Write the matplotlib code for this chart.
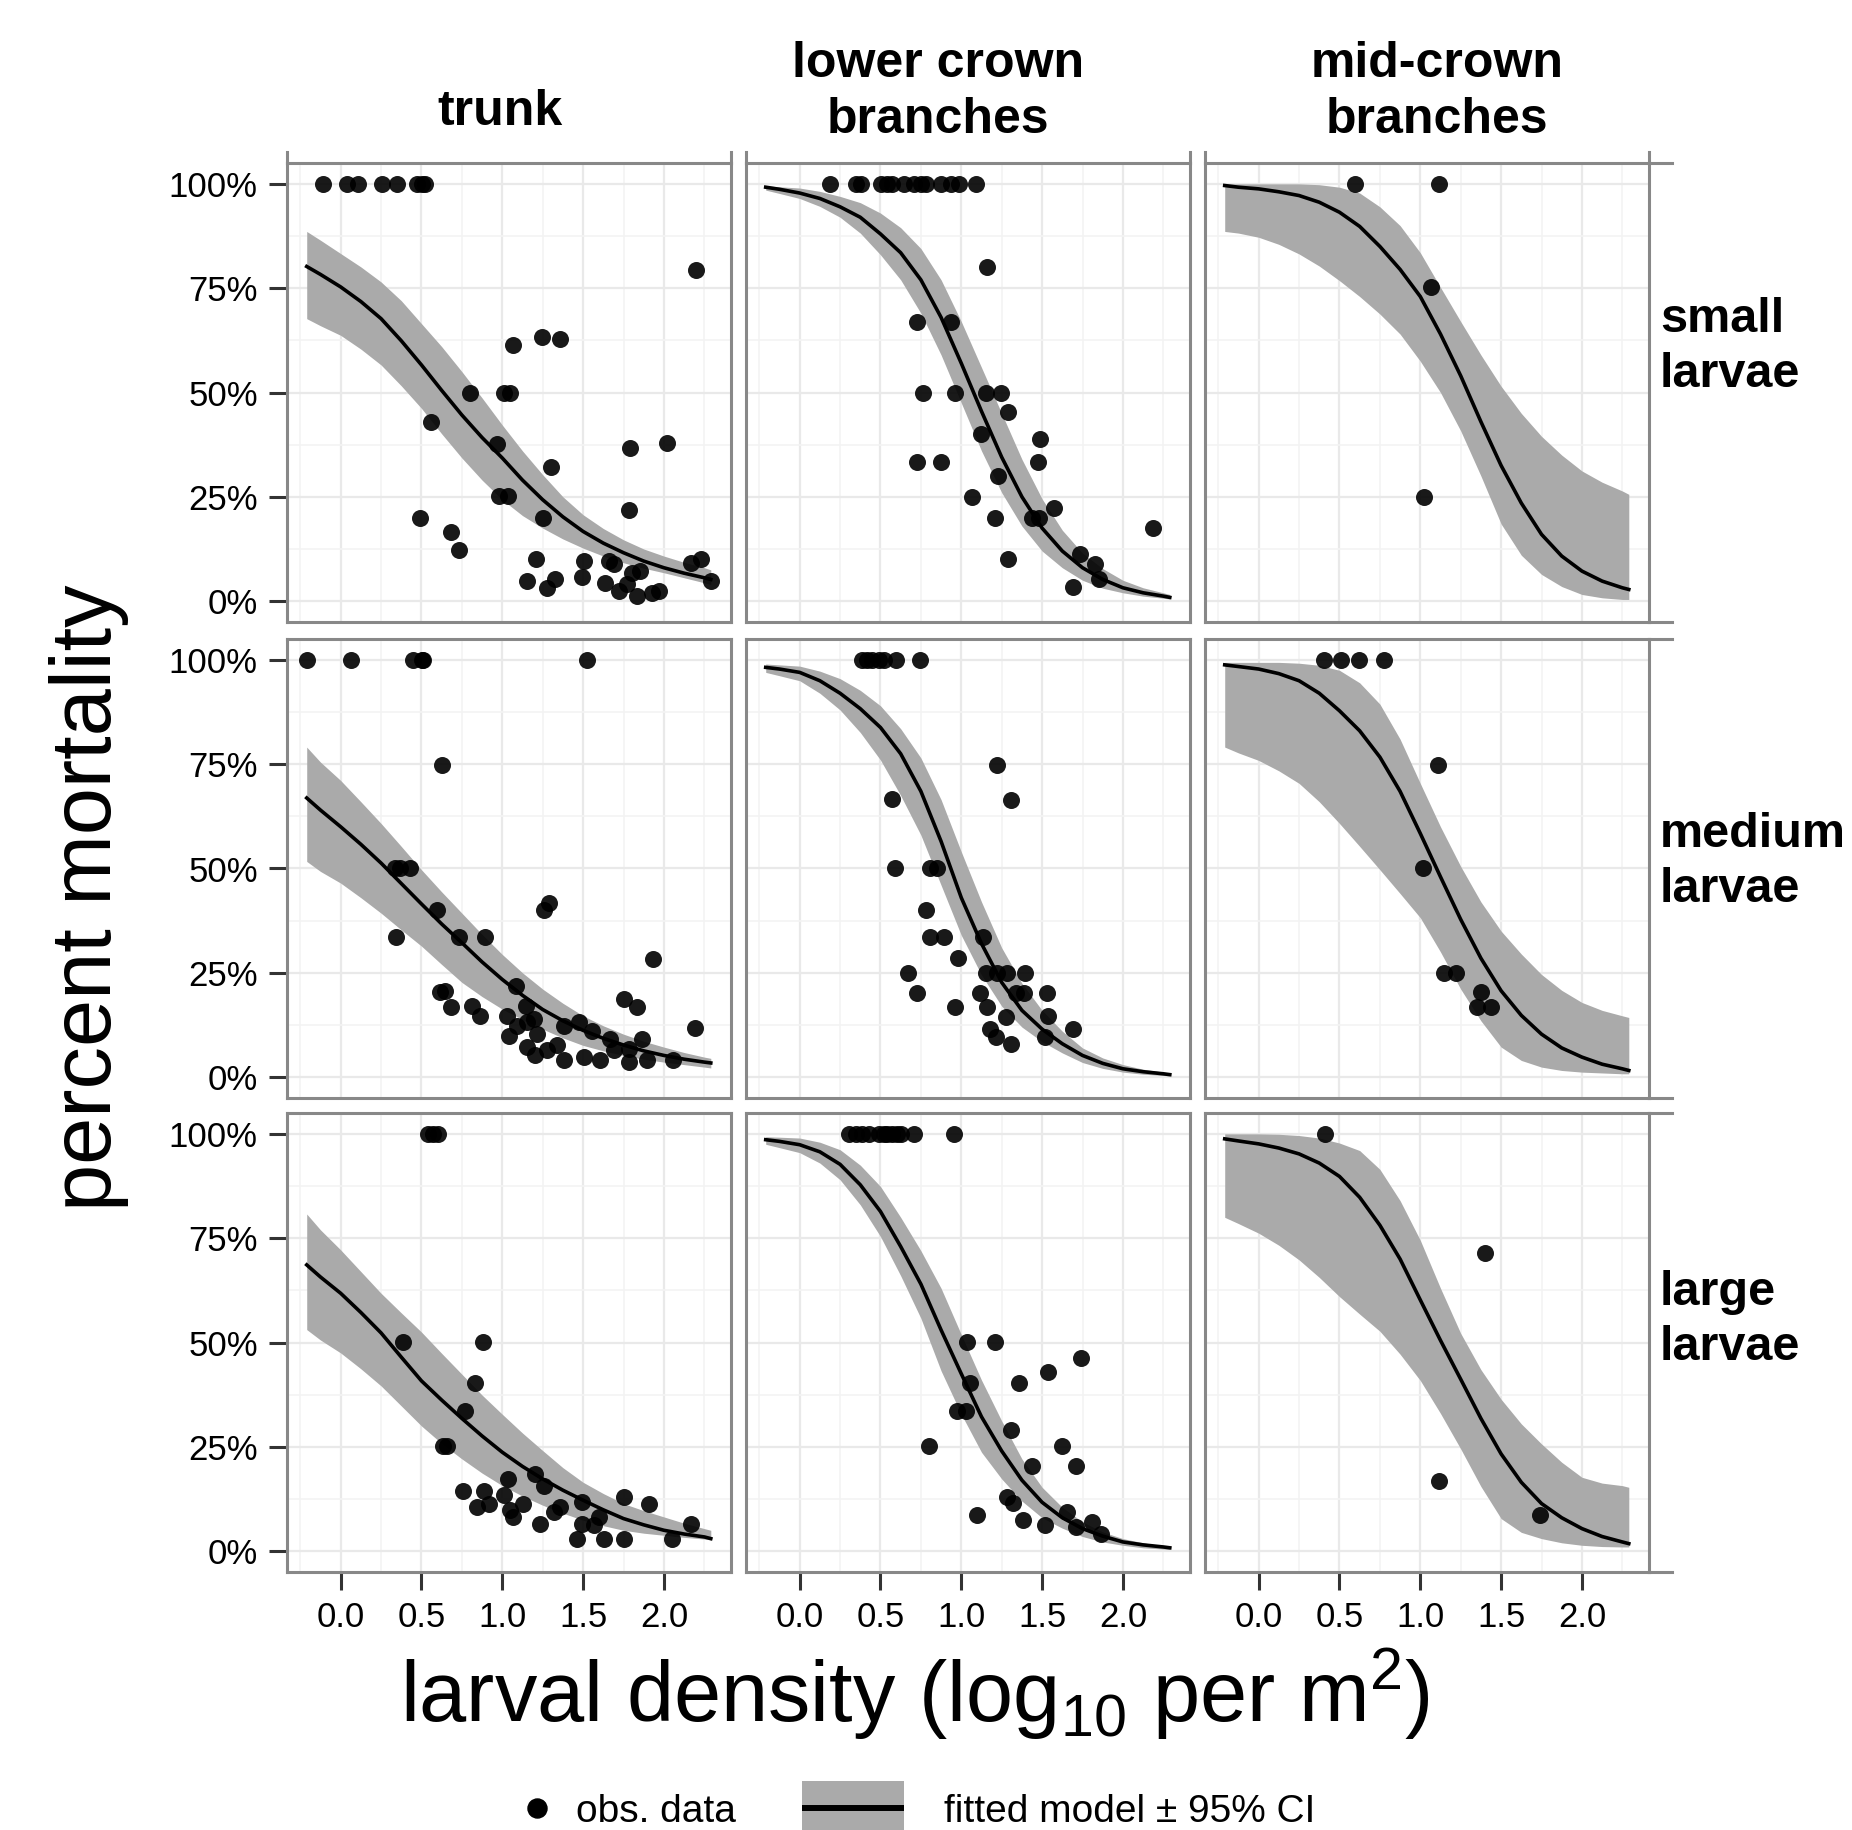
import matplotlib
matplotlib.use('Agg')
import matplotlib.pyplot as plt
from matplotlib.patches import Rectangle
from matplotlib.ticker import MultipleLocator, FuncFormatter

plt.rcParams['font.family'] = ['Liberation Sans', 'DejaVu Sans']
plt.rcParams['mathtext.fontset'] = 'custom'
plt.rcParams['mathtext.rm'] = 'Liberation Sans'

# facet labels
col_labels = ['trunk', 'lower crown\nbranches', 'mid-crown\nbranches']
row_labels = ['small\nlarvae', 'medium\nlarvae', 'large\nlarvae']

curve_x = [-0.21, -0.125, 0.0, 0.125, 0.25, 0.375, 0.5, 0.625, 0.75, 0.875, 1.0,
           1.125, 1.25, 1.375, 1.5, 1.625, 1.75, 1.875, 2.0, 2.125, 2.25, 2.29]

# ---- small larvae ----
trunk_small_x = [-0.112, 0.037, 0.11, 0.254, 0.347, 0.471, 0.502, 0.523, 2.196, 1.064, 1.246, 1.36,
                 0.802, 1.012, 1.05, 0.56, 0.967, 1.789, 2.017, 1.302, 0.977, 1.035, 1.783, 0.488,
                 1.25, 0.684, 0.733, 1.209, 1.508, 1.659, 1.69, 2.165, 2.231, 2.293, 1.153, 1.277,
                 1.329, 1.494, 1.638, 1.721, 1.773, 1.804, 1.855, 1.835, 1.928, 1.969]
trunk_small_y = [1, 1, 1, 1, 1, 1, 1, 1, 0.794, 0.614, 0.633, 0.629,
                 0.498, 0.498, 0.498, 0.43, 0.376, 0.367, 0.38, 0.321, 0.251, 0.251, 0.219, 0.199,
                 0.2, 0.166, 0.123, 0.1, 0.096, 0.097, 0.088, 0.092, 0.102, 0.048, 0.048, 0.032,
                 0.052, 0.057, 0.044, 0.024, 0.04, 0.068, 0.072, 0.012, 0.02, 0.024]
trunk_small_fit = [0.802, 0.783, 0.753, 0.718, 0.677, 0.624, 0.566, 0.505, 0.446, 0.392, 0.343,
                   0.29, 0.243, 0.202, 0.167, 0.139, 0.116, 0.096, 0.080, 0.067, 0.056, 0.052]
trunk_small_hi = [0.886, 0.865, 0.833, 0.801, 0.765, 0.72, 0.665, 0.61, 0.55, 0.487, 0.422,
                  0.36, 0.303, 0.25, 0.207, 0.174, 0.147, 0.125, 0.108, 0.093, 0.08, 0.075]
trunk_small_lo = [0.677, 0.66, 0.637, 0.604, 0.566, 0.516, 0.462, 0.401, 0.343, 0.29, 0.243,
                  0.205, 0.175, 0.149, 0.127, 0.108, 0.092, 0.079, 0.068, 0.056, 0.044, 0.040]

lower_small_x = [0.188, 0.346, 0.377, 0.501, 0.542, 0.573, 0.645, 0.707, 0.748, 0.779, 0.872, 0.934,
                 0.986, 1.089, 1.161, 0.724, 0.938, 0.763, 0.961, 1.151, 1.247, 1.291, 1.124, 1.485,
                 1.474, 0.728, 0.876, 1.227, 1.068, 1.573, 1.206, 1.439, 1.48, 2.188, 1.291, 1.734,
                 1.827, 1.852, 1.693]
lower_small_y = [1, 1, 1, 1, 1, 1, 1, 1, 1, 1, 1, 1,
                 1, 1, 0.80, 0.669, 0.669, 0.499, 0.499, 0.499, 0.499, 0.454, 0.401, 0.389,
                 0.334, 0.333, 0.334, 0.30, 0.25, 0.224, 0.20, 0.20, 0.20, 0.176, 0.10, 0.112,
                 0.088, 0.054, 0.034]
lower_small_fit = [0.992, 0.987, 0.978, 0.965, 0.945, 0.92, 0.88, 0.835, 0.77, 0.68, 0.57,
                   0.455, 0.345, 0.25, 0.175, 0.12, 0.08, 0.052, 0.032, 0.02, 0.012, 0.009]
lower_small_hi = [0.995, 0.993, 0.99, 0.982, 0.97, 0.955, 0.93, 0.895, 0.845, 0.77, 0.67,
                  0.56, 0.45, 0.34, 0.245, 0.17, 0.115, 0.078, 0.05, 0.032, 0.02, 0.016]
lower_small_lo = [0.985, 0.977, 0.965, 0.946, 0.92, 0.882, 0.83, 0.77, 0.69, 0.59, 0.475,
                  0.36, 0.26, 0.18, 0.12, 0.08, 0.05, 0.031, 0.02, 0.012, 0.007, 0.005]

mid_small_x = [0.597, 1.115, 1.066, 1.025]
mid_small_y = [1.0, 1.0, 0.752, 0.25]
mid_small_fit = [0.996, 0.992, 0.988, 0.981, 0.972, 0.956, 0.932, 0.898, 0.85, 0.795, 0.73,
                 0.64, 0.54, 0.43, 0.325, 0.235, 0.16, 0.108, 0.072, 0.048, 0.032, 0.028]
mid_small_hi = [1.0, 1.0, 1.0, 1.0, 1.0, 0.998, 0.992, 0.978, 0.945, 0.9, 0.835,
                0.752, 0.67, 0.59, 0.515, 0.45, 0.395, 0.35, 0.312, 0.285, 0.264, 0.256]
mid_small_lo = [0.886, 0.882, 0.872, 0.855, 0.832, 0.803, 0.768, 0.73, 0.688, 0.64, 0.575,
                0.5, 0.408, 0.3, 0.185, 0.11, 0.064, 0.035, 0.016, 0.008, 0.004, 0.004]

# ---- medium larvae ----
trunk_medium_x = [-0.211, 0.062, 0.45, 0.502, 0.512, 1.525, 0.63, 0.337, 0.368, 0.43, 0.595, 1.256,
                  1.287, 0.343, 0.733, 0.895, 1.932, 1.085, 0.612, 0.647, 0.684, 0.812, 0.86, 1.147,
                  1.752, 1.831, 1.029, 1.091, 1.153, 1.194, 1.039, 1.215, 1.153, 1.205, 1.277, 1.339,
                  1.38, 1.38, 1.473, 1.556, 1.504, 1.607, 1.669, 1.69, 1.783, 1.783, 1.862, 1.897,
                  2.058, 2.192]
trunk_medium_y = [1, 1, 1, 1, 1, 1, 0.749, 0.502, 0.502, 0.502, 0.40, 0.401,
                  0.417, 0.336, 0.336, 0.336, 0.282, 0.219, 0.203, 0.207, 0.169, 0.171, 0.147, 0.171,
                  0.187, 0.169, 0.147, 0.123, 0.131, 0.139, 0.099, 0.103, 0.072, 0.052, 0.064, 0.076,
                  0.04, 0.123, 0.131, 0.111, 0.048, 0.04, 0.091, 0.064, 0.068, 0.036, 0.091, 0.041,
                  0.041, 0.117]
trunk_medium_fit = [0.669, 0.64, 0.60, 0.558, 0.513, 0.464, 0.415, 0.367, 0.322, 0.276, 0.234,
                    0.196, 0.162, 0.135, 0.112, 0.093, 0.077, 0.063, 0.052, 0.043, 0.036, 0.034]
trunk_medium_hi = [0.791, 0.755, 0.711, 0.66, 0.608, 0.553, 0.497, 0.444, 0.393, 0.342, 0.294,
                   0.25, 0.211, 0.177, 0.147, 0.123, 0.103, 0.086, 0.072, 0.059, 0.048, 0.045]
trunk_medium_lo = [0.517, 0.493, 0.465, 0.43, 0.393, 0.353, 0.314, 0.27, 0.227, 0.193, 0.163,
                   0.138, 0.115, 0.094, 0.076, 0.063, 0.052, 0.043, 0.036, 0.03, 0.024, 0.022]

lower_medium_x = [0.388, 0.419, 0.45, 0.491, 0.522, 0.594, 0.742, 1.223, 1.309, 0.569, 0.59, 0.806,
                  0.852, 0.784, 0.804, 0.893, 1.136, 0.979, 0.672, 1.151, 1.223, 1.285, 1.392, 0.728,
                  1.115, 1.336, 1.388, 1.528, 0.961, 1.161, 1.278, 1.536, 1.177, 1.212, 1.309, 1.515,
                  1.691]
lower_medium_y = [1, 1, 1, 1, 1, 1, 1, 0.749, 0.665, 0.666, 0.50, 0.50,
                  0.50, 0.401, 0.336, 0.336, 0.336, 0.286, 0.25, 0.25, 0.25, 0.25, 0.25, 0.201,
                  0.201, 0.201, 0.201, 0.201, 0.169, 0.169, 0.145, 0.147, 0.115, 0.095, 0.079, 0.095,
                  0.115]
lower_medium_fit = [0.982, 0.978, 0.97, 0.95, 0.92, 0.883, 0.838, 0.775, 0.685, 0.565, 0.43,
                    0.32, 0.227, 0.16, 0.115, 0.08, 0.052, 0.033, 0.02, 0.013, 0.008, 0.006]
lower_medium_hi = [0.99, 0.988, 0.985, 0.973, 0.955, 0.927, 0.89, 0.835, 0.765, 0.665, 0.54,
                   0.42, 0.31, 0.225, 0.16, 0.11, 0.07, 0.046, 0.03, 0.019, 0.012, 0.01]
lower_medium_lo = [0.97, 0.962, 0.95, 0.92, 0.88, 0.826, 0.76, 0.675, 0.58, 0.46, 0.34,
                   0.245, 0.17, 0.12, 0.085, 0.058, 0.035, 0.021, 0.012, 0.007, 0.004, 0.003]

mid_medium_x = [0.407, 0.51, 0.623, 0.774, 1.111, 1.014, 1.148, 1.22, 1.374, 1.35, 1.436]
mid_medium_y = [1, 1, 1, 1, 0.749, 0.50, 0.25, 0.25, 0.204, 0.167, 0.167]
mid_medium_fit = [0.988, 0.984, 0.978, 0.967, 0.95, 0.92, 0.878, 0.83, 0.767, 0.685, 0.584,
                  0.48, 0.378, 0.285, 0.207, 0.148, 0.103, 0.07, 0.048, 0.031, 0.02, 0.016]
mid_medium_hi = [0.994, 0.994, 0.994, 0.994, 0.992, 0.987, 0.975, 0.945, 0.894, 0.81, 0.704,
                 0.6, 0.505, 0.42, 0.35, 0.295, 0.246, 0.208, 0.179, 0.16, 0.147, 0.143]
mid_medium_lo = [0.791, 0.777, 0.759, 0.734, 0.704, 0.66, 0.608, 0.553, 0.497, 0.44, 0.382,
                 0.3, 0.211, 0.135, 0.072, 0.04, 0.024, 0.016, 0.012, 0.01, 0.008, 0.008]

# ---- large larvae ----
trunk_large_x = [0.543, 0.574, 0.605, 0.388, 0.878, 0.833, 0.767, 0.632, 0.657, 1.035, 1.2, 1.256,
                 0.756, 0.888, 0.843, 0.915, 1.008, 1.05, 1.066, 1.128, 1.236, 1.318, 1.36, 1.494,
                 1.494, 1.566, 1.597, 1.463, 1.628, 1.752, 1.752, 1.907, 2.048, 2.165]
trunk_large_y = [1, 1, 1, 0.502, 0.502, 0.404, 0.336, 0.253, 0.253, 0.173, 0.185, 0.157,
                 0.145, 0.145, 0.106, 0.114, 0.134, 0.098, 0.082, 0.114, 0.066, 0.094, 0.106, 0.118,
                 0.066, 0.062, 0.082, 0.03, 0.03, 0.13, 0.03, 0.114, 0.03, 0.064]
trunk_large_fit = [0.686, 0.657, 0.618, 0.572, 0.523, 0.465, 0.408, 0.362, 0.318, 0.276, 0.237,
                   0.203, 0.173, 0.146, 0.122, 0.099, 0.078, 0.063, 0.05, 0.041, 0.034, 0.03]
trunk_large_hi = [0.808, 0.77, 0.722, 0.67, 0.618, 0.571, 0.525, 0.474, 0.424, 0.374, 0.328,
                  0.283, 0.241, 0.2, 0.165, 0.138, 0.114, 0.097, 0.082, 0.067, 0.054, 0.05]
trunk_large_lo = [0.531, 0.506, 0.475, 0.437, 0.396, 0.348, 0.30, 0.258, 0.221, 0.187, 0.157,
                  0.132, 0.11, 0.091, 0.074, 0.061, 0.05, 0.043, 0.038, 0.033, 0.029, 0.027]

lower_large_x = [0.305, 0.346, 0.388, 0.429, 0.491, 0.522, 0.542, 0.573, 0.604, 0.629, 0.707, 0.955,
                 1.033, 1.206, 1.738, 1.536, 1.357, 1.054, 0.975, 1.027, 1.309, 0.80, 1.625, 1.439,
                 1.707, 1.285, 1.322, 1.099, 1.381, 1.656, 1.518, 1.707, 1.81, 1.862]
lower_large_y = [1, 1, 1, 1, 1, 1, 1, 1, 1, 1, 1, 1,
                 0.502, 0.502, 0.463, 0.43, 0.404, 0.404, 0.336, 0.336, 0.29, 0.253, 0.253, 0.205,
                 0.203, 0.13, 0.115, 0.087, 0.074, 0.094, 0.062, 0.058, 0.07, 0.042]
lower_large_fit = [0.986, 0.982, 0.974, 0.957, 0.927, 0.878, 0.814, 0.73, 0.64, 0.53, 0.425,
                   0.322, 0.24, 0.17, 0.117, 0.08, 0.054, 0.036, 0.022, 0.015, 0.01, 0.008]
lower_large_hi = [0.993, 0.992, 0.99, 0.98, 0.962, 0.925, 0.874, 0.80, 0.72, 0.63, 0.519,
                  0.41, 0.312, 0.221, 0.153, 0.105, 0.07, 0.046, 0.03, 0.02, 0.012, 0.01]
lower_large_lo = [0.975, 0.967, 0.955, 0.93, 0.89, 0.83, 0.754, 0.66, 0.558, 0.432, 0.328,
                  0.237, 0.173, 0.12, 0.08, 0.055, 0.035, 0.022, 0.014, 0.008, 0.005, 0.004]

mid_large_x = [0.412, 1.399, 1.117, 1.741]
mid_large_y = [1.0, 0.715, 0.169, 0.086]
mid_large_fit = [0.988, 0.983, 0.976, 0.966, 0.952, 0.93, 0.898, 0.848, 0.781, 0.7, 0.602,
                 0.505, 0.412, 0.318, 0.233, 0.165, 0.114, 0.08, 0.054, 0.035, 0.022, 0.018]
mid_large_hi = [1.0, 1.0, 1.0, 0.999, 0.996, 0.99, 0.978, 0.96, 0.915, 0.84, 0.745,
                0.63, 0.522, 0.435, 0.364, 0.305, 0.257, 0.213, 0.177, 0.163, 0.157, 0.153]
mid_large_lo = [0.80, 0.785, 0.762, 0.733, 0.698, 0.656, 0.61, 0.568, 0.527, 0.472, 0.409,
                0.33, 0.245, 0.155, 0.078, 0.045, 0.03, 0.02, 0.014, 0.011, 0.01, 0.01]

panels = [
    [(trunk_small_x, trunk_small_y, trunk_small_fit, trunk_small_lo, trunk_small_hi),
     (lower_small_x, lower_small_y, lower_small_fit, lower_small_lo, lower_small_hi),
     (mid_small_x, mid_small_y, mid_small_fit, mid_small_lo, mid_small_hi)],
    [(trunk_medium_x, trunk_medium_y, trunk_medium_fit, trunk_medium_lo, trunk_medium_hi),
     (lower_medium_x, lower_medium_y, lower_medium_fit, lower_medium_lo, lower_medium_hi),
     (mid_medium_x, mid_medium_y, mid_medium_fit, mid_medium_lo, mid_medium_hi)],
    [(trunk_large_x, trunk_large_y, trunk_large_fit, trunk_large_lo, trunk_large_hi),
     (lower_large_x, lower_large_y, lower_large_fit, lower_large_lo, lower_large_hi),
     (mid_large_x, mid_large_y, mid_large_fit, mid_large_lo, mid_large_hi)],
]

# layout in pixels of the 1852 x 1830 canvas
W, H = 1852, 1830
col_left = [287, 746, 1205]
row_top = [163, 639, 1113]
pw, ph = 444, 459
border = '#888888'
band = '#aaaaaa'

fig = plt.figure(figsize=(W / 100, H / 100), dpi=100)

for r in range(3):
    for c in range(3):
        px, py, fit, lo, hi = panels[r][c]
        ax = fig.add_axes([col_left[c] / W, 1 - (row_top[r] + ph) / H, pw / W, ph / H])
        ax.fill_between(curve_x, lo, hi, color=band, lw=0, zorder=2)
        ax.plot(curve_x, fit, color='black', lw=2.6, zorder=3, solid_joinstyle='round')
        ax.scatter(px, py, s=150, c='black', alpha=0.9, lw=0, zorder=4)

        ax.set_xlim(-0.332, 2.415)
        ax.set_ylim(-0.05, 1.05)
        ax.xaxis.set_major_locator(MultipleLocator(0.5))
        ax.xaxis.set_minor_locator(MultipleLocator(0.25))
        ax.yaxis.set_major_locator(MultipleLocator(0.25))
        ax.yaxis.set_minor_locator(MultipleLocator(0.125))
        ax.xaxis.set_major_formatter(FuncFormatter(lambda v, p: f'{v:.1f}'))
        ax.yaxis.set_major_formatter(FuncFormatter(lambda v, p: f'{v * 100:.0f}%'))
        ax.set_axisbelow(True)
        ax.grid(which='major', color='#e9e9e9', lw=1.6)
        ax.grid(which='minor', color='#f3f3f3', lw=1.2)
        for s in ax.spines.values():
            s.set_color(border)
            s.set_linewidth(2.2)

        ax.tick_params(which='major', color='#333333', length=13, width=2.2,
                       labelsize=25, pad=8, labelcolor='black')
        ax.tick_params(which='minor', length=0)
        if c > 0:
            ax.tick_params(axis='y', length=0, labelleft=False)
        if r < 2:
            ax.tick_params(axis='x', length=0, labelbottom=False)

# overlay in pixel coordinates for labels, strips and legend
ov = fig.add_axes([0, 0, 1, 1])
ov.set_xlim(0, W)
ov.set_ylim(H, 0)
ov.axis('off')

col_text_x = [500, 938, 1437]
col_text_y = [112, 92, 92]
for c in range(3):
    ov.text(col_text_x[c], col_text_y[c], col_labels[c], ha='center', va='center',
            fontsize=36, fontweight='bold', linespacing=1.3)
row_text_y = [347, 862, 1320]
for r in range(3):
    ov.text(1660, row_text_y[r], row_labels[r], ha='left', va='center',
            fontsize=35, fontweight='bold', linespacing=1.3)

# little strip-border stubs
for c in range(3):
    for xx in (col_left[c], col_left[c] + pw):
        ov.plot([xx, xx], [152, row_top[0]], color=border, lw=2.2)
for r in range(3):
    for yy in (row_top[r], row_top[r] + ph):
        ov.plot([col_left[2] + pw, 1672], [yy, yy], color=border, lw=2.2)

ov.text(89, 898, 'percent mortality', rotation=90, ha='center', va='center', fontsize=61)
ov.text(915, 1722, r'larval density (log$_{\mathrm{10}}$ per m$^{\mathrm{2}}$)',
        ha='center', va='baseline', fontsize=61)

# legend
ov.plot([537], [1808], marker='o', ms=13.7, color='black', ls='none')
ov.text(576, 1822, 'obs. data', ha='left', va='baseline', fontsize=28)
ov.add_patch(Rectangle((802, 1781), 102, 60, color=band, lw=0))
ov.plot([802, 904], [1808, 1808], color='black', lw=4.3, solid_capstyle='butt')
ov.text(944, 1822, 'fitted model \u00b1 95% CI', ha='left', va='baseline', fontsize=28)

fig.savefig('out.png', dpi=100)
